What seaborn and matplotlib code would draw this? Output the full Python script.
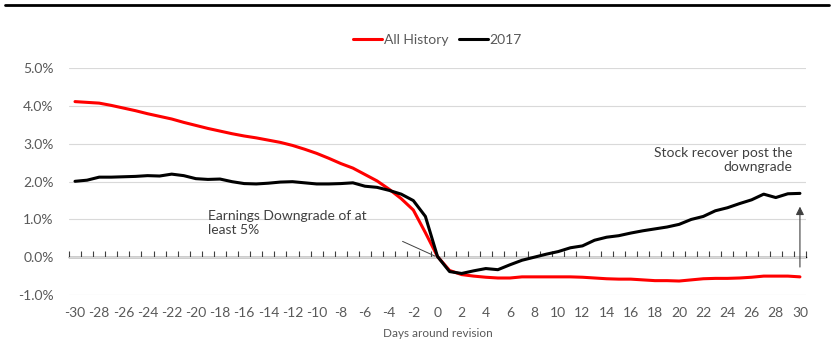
import matplotlib
matplotlib.use("Agg")
import matplotlib.pyplot as plt
from matplotlib.lines import Line2D
from matplotlib.ticker import FuncFormatter, MultipleLocator
import seaborn as sns
import numpy as np
import pandas as pd

# data (percent), days -30 .. 30
days = list(range(-30, 31))
all_history = [4.12, 4.10, 4.08, 4.02, 3.95, 3.88, 3.80, 3.73, 3.66, 3.57,
               3.49, 3.41, 3.34, 3.27, 3.21, 3.16, 3.10, 3.04, 2.96, 2.86,
               2.75, 2.62, 2.48, 2.36, 2.19, 2.02, 1.80, 1.55, 1.25, 0.65,
               0.02, -0.35, -0.46, -0.50, -0.53, -0.55, -0.55, -0.52, -0.52, -0.52,
               -0.52, -0.52, -0.53, -0.55, -0.57, -0.58, -0.58, -0.60, -0.62, -0.62,
               -0.63, -0.60, -0.57, -0.56, -0.56, -0.55, -0.53, -0.50, -0.50, -0.50,
               -0.52]
y2017 = [2.01, 2.04, 2.12, 2.12, 2.13, 2.14, 2.16, 2.15, 2.20, 2.16,
         2.08, 2.06, 2.07, 2.00, 1.95, 1.94, 1.96, 1.99, 2.00, 1.97,
         1.94, 1.94, 1.95, 1.97, 1.88, 1.85, 1.77, 1.67, 1.50, 1.08,
         0.02, -0.38, -0.43, -0.36, -0.30, -0.33, -0.20, -0.08, 0.00, 0.08,
         0.15, 0.25, 0.30, 0.45, 0.53, 0.57, 0.64, 0.70, 0.75, 0.80,
         0.87, 1.00, 1.08, 1.23, 1.31, 1.42, 1.52, 1.67, 1.58, 1.68,
         1.69]
series_names = ["All History", "2017"]
colors = {"All History": "#FF0000", "2017": "#000000"}

df = pd.DataFrame({
    "day": days * 2,
    "value": all_history + y2017,
    "series": [series_names[0]] * len(days) + [series_names[1]] * len(days),
})

sns.set_theme(style="white")
plt.rcParams["font.family"] = ["Lato", "DejaVu Sans"]
plt.rcParams["axes.unicode_minus"] = False
grey = "#595959"

fig = plt.figure(figsize=(8.34, 3.58), dpi=100)
ax = fig.add_axes([0.0827, 0.176, 0.9664 - 0.0827, 0.809 - 0.176])

sns.lineplot(data=df, x="day", y="value", hue="series", palette=colors,
             linewidth=2.2, ax=ax)

ax.set_xlim(-30.5, 30.5)
ax.set_ylim(-1, 5)
ax.yaxis.set_major_locator(MultipleLocator(1))
ax.yaxis.set_major_formatter(FuncFormatter(lambda v, p: f"{v:.1f}%"))
ax.xaxis.set_major_locator(MultipleLocator(2))
ax.grid(axis="y", color="#d9d9d9", linewidth=0.8)
ax.grid(axis="x", visible=False)
for s in ax.spines.values():
    s.set_visible(False)
ax.tick_params(axis="y", length=0, pad=11, labelsize=10, labelcolor=grey)
ax.tick_params(axis="x", length=0, pad=9, labelsize=10, labelcolor=grey)
ax.set_xlabel("Days around revision", fontsize=8.5, color=grey, labelpad=6)
ax.set_ylabel("")

# zero axis with tick marks between the days
zero_ax = ax.secondary_xaxis(0, transform=ax.transData)
zero_ax.set_xticks(np.arange(-30.5, 31, 1))
zero_ax.tick_params(direction="in", length=4, width=0.8, color="#404040",
                    labelbottom=False)
zero_ax.spines["bottom"].set_color("black")
zero_ax.spines["bottom"].set_linewidth(1)

# legend on top
sns.move_legend(ax, "center", bbox_to_anchor=(0.5, (0.888 - 0.176) / (0.809 - 0.176)),
                ncol=2, frameon=False, title=None, fontsize=10,
                handlelength=2.1, handletextpad=0.1, columnspacing=0.8)
for t in ax.get_legend().get_texts():
    t.set_color(grey)

# annotations
ax.text(-19, 0.9, "Earnings Downgrade of at\nleast 5%", fontsize=10,
        color="#404040", ha="left", va="center", linespacing=1.25)
ax.annotate("", xy=(0, 0), xytext=(-3.1, 0.45),
            arrowprops=dict(arrowstyle="-", color="#404040", lw=0.7))
ax.text(29.4, 2.57, "Stock recover post the\ndowngrade", fontsize=10,
        color="#404040", ha="right", va="center", linespacing=1.25)
ax.annotate("", xy=(30, 1.34), xytext=(30, -0.26),
            arrowprops=dict(arrowstyle="-|>", color="#404040", lw=0.8,
                            mutation_scale=12, shrinkA=0, shrinkB=0,
                            facecolor="black"))

# top rule
fig.add_artist(Line2D([0.006, 0.994], [0.986, 0.986], color="black", lw=2))

fig.savefig("out.png", dpi=100)
